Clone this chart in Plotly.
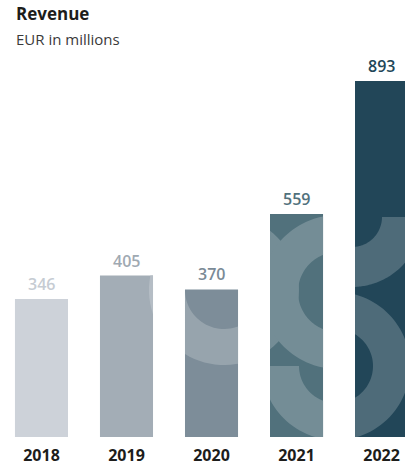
import numpy as np
import plotly.graph_objects as go

# ---- data -------------------------------------------------------------
years = ["2018", "2019", "2020", "2021", "2022"]
revenue = [346, 405, 370, 559, 893]
bar_colors = ["#cdd2d9", "#a3adb6", "#7d8d99", "#51717c", "#224658"]
label_colors = ["#c6ccd3", "#9fa9b2", "#7a8a96", "#51717c", "#224658"]

# ---- layout constants ---------------------------------------------------
W, H = 405, 467
MARGIN_B = 30
PLOT_H = H - MARGIN_B
X_RANGE = [-0.488, 4.276]
Y_RANGE = [0, 1096]
BAR_WIDTH = 0.624
FONT = "Open Sans"


def px_to_data(px, py):
    """Convert plot-area pixel offsets to axis data coordinates."""
    xd = X_RANGE[0] + np.asarray(px) / W * (X_RANGE[1] - X_RANGE[0])
    yd = Y_RANGE[1] - np.asarray(py) / PLOT_H * (Y_RANGE[1] - Y_RANGE[0])
    return xd, yd


def ring_sector(cx, cy, r_in, r_out, a0, a1, n=90):
    """Polygon of an annular sector in screen pixels (angles in degrees, y up)."""
    t_out = np.radians(np.linspace(a0, a1, n))
    t_in = t_out[::-1]
    xs = np.concatenate([cx + r_out * np.cos(t_out), cx + r_in * np.cos(t_in)])
    ys = np.concatenate([cy - r_out * np.sin(t_out), cy - r_in * np.sin(t_in)])
    return px_to_data(xs, ys)


def clip_poly(xs, ys, x0, x1, y0, y1):
    """Sutherland-Hodgman clip of a polygon to an axis-aligned rectangle."""
    pts = list(zip(xs, ys))
    edges = [
        (lambda p: p[0] >= x0, lambda a, b: (x0, a[1] + (b[1] - a[1]) * (x0 - a[0]) / (b[0] - a[0]))),
        (lambda p: p[0] <= x1, lambda a, b: (x1, a[1] + (b[1] - a[1]) * (x1 - a[0]) / (b[0] - a[0]))),
        (lambda p: p[1] >= y0, lambda a, b: (a[0] + (b[0] - a[0]) * (y0 - a[1]) / (b[1] - a[1]), y0)),
        (lambda p: p[1] <= y1, lambda a, b: (a[0] + (b[0] - a[0]) * (y1 - a[1]) / (b[1] - a[1]), y1)),
    ]
    for inside, cross in edges:
        if not pts:
            break
        out = []
        prev = pts[-1]
        for cur in pts:
            if inside(cur):
                if not inside(prev):
                    out.append(cross(prev, cur))
                out.append(cur)
            elif inside(prev):
                out.append(cross(prev, cur))
            prev = cur
        pts = out
    return pts


def tint(hex_color, amount=0.2):
    h = hex_color.lstrip("#")
    rgb = [int(h[i:i + 2], 16) for i in (0, 2, 4)]
    rgb = [round(c + (255 - c) * amount) for c in rgb]
    return "rgb({},{},{})".format(*rgb)


# Decorative ribbon motif laid over the bars (screen-pixel geometry)
motif = [
    ring_sector(224, 290, 39, 75, 0, 360),     # full ring
    ring_sector(338, 292, 40, 77, 90, 270),    # upper bowl, left half
    ring_sector(352, 217, 30, 70, 270, 360),   # upper tail, lower-right quarter
    ring_sector(336, 366, 37, 74, 180, 450),   # lower bowl, three quarters
]

shapes = []
for i, (val, col) in enumerate(zip(revenue, bar_colors)):
    bx0, bx1 = i - BAR_WIDTH / 2, i + BAR_WIDTH / 2
    for mx, my in motif:
        pts = clip_poly(mx, my, bx0, bx1, 0, val)
        if len(pts) < 3:
            continue
        path = "M " + " L ".join(f"{x:.5f},{y:.3f}" for x, y in pts) + " Z"
        shapes.append(dict(type="path", path=path, xref="x", yref="y",
                           fillcolor=tint(col), line=dict(width=0), layer="above"))

fig = go.Figure(
    go.Bar(
        x=list(range(len(years))),
        y=revenue,
        width=BAR_WIDTH,
        marker=dict(color=bar_colors, line=dict(width=0)),
        hoverinfo="skip",
    )
)

annotations = []
for i, (val, col) in enumerate(zip(revenue, label_colors)):
    annotations.append(dict(
        x=i, y=val, xref="x", yref="y", text=str(val), showarrow=False,
        yanchor="bottom", yshift=2,
        font=dict(family=FONT, size=16, color=col, weight=600),
    ))

annotations += [
    dict(x=0, y=1, xref="paper", yref="paper", xanchor="left", yanchor="top",
         xshift=14, yshift=0, showarrow=False, text="<b>Revenue</b>",
         font=dict(family=FONT, size=17, color="#1d1d1b")),
    dict(x=0, y=1, xref="paper", yref="paper", xanchor="left", yanchor="top",
         xshift=14, yshift=-27, showarrow=False, text="EUR in millions",
         font=dict(family=FONT, size=15, color="#3a3a3a")),
]

fig.update_layout(
    width=W, height=H,
    margin=dict(l=0, r=0, t=0, b=MARGIN_B, pad=0),
    plot_bgcolor="white", paper_bgcolor="white",
    showlegend=False,
    shapes=shapes,
    annotations=annotations,
    xaxis=dict(
        range=X_RANGE, tickmode="array", tickvals=list(range(len(years))),
        ticktext=years, showgrid=False, zeroline=False, showline=False,
        ticks="outside", ticklen=4, tickcolor="rgba(0,0,0,0)",
        tickfont=dict(family=FONT, size=16, color="#1d1d1b", weight="bold"),
        fixedrange=True,
    ),
    yaxis=dict(range=Y_RANGE, visible=False, fixedrange=True),
)

fig.write_html("out.html", config={"displayModeBar": False})
